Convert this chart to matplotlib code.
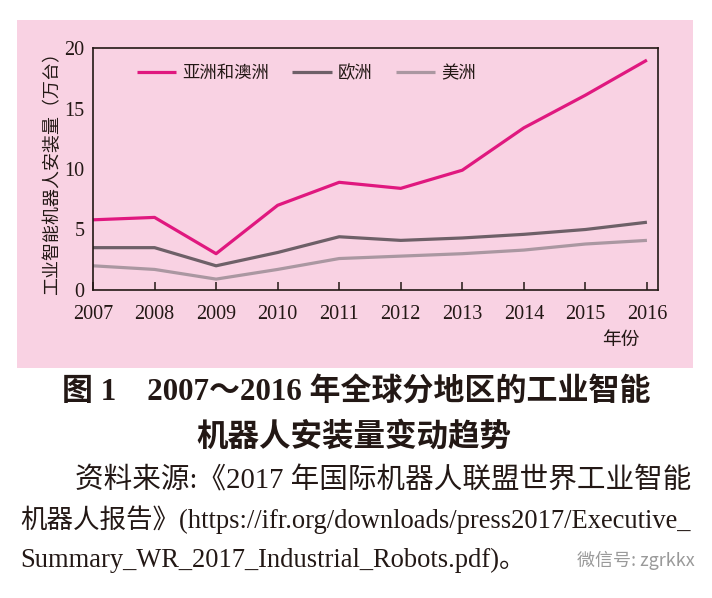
import matplotlib
matplotlib.use("Agg")
import matplotlib.pyplot as plt
from matplotlib.patches import Rectangle

years = [2007, 2008, 2009, 2010, 2011, 2012, 2013, 2014, 2015, 2016]
asia = [5.8, 6.0, 3.0, 7.0, 8.9, 8.4, 9.9, 13.4, 16.1, 19.0]
europe = [3.5, 3.5, 2.0, 3.1, 4.4, 4.1, 4.3, 4.6, 5.0, 5.6]
americas = [2.0, 1.7, 0.9, 1.7, 2.6, 2.8, 3.0, 3.3, 3.8, 4.1]
series_names = ["亚洲和澳洲", "欧洲", "美洲"]
yticks = [0, 5, 10, 15, 20]
ylabel = "工业智能机器人安装量（万台）"
xlabel = "年份"
cap1 = "图 1　2007～2016 年全球分地区的工业智能"
cap2 = "机器人安装量变动趋势"
cap3 = "资料来源:《2017 年国际机器人联盟世界工业智能"
cap4 = "机器人报告》(https://ifr.org/downloads/press2017/Executive_"
cap5 = "Summary_WR_2017_Industrial_Robots.pdf)。"
watermark = "微信号: zgrkkx"

W, H = 712, 598
PINK = "#F9D2E3"
INK = "#231815"
FAM = ["Liberation Serif", "Noto Sans CJK SC", "DejaVu Sans"]
plt.rcParams["font.family"] = FAM

fig = plt.figure(figsize=(W / 100, H / 100), dpi=100)
fig.patch.set_facecolor("white")

def fx(px):
    return px / W

def fy(py):
    return 1 - py / H

fig.add_artist(Rectangle((fx(17), fy(368)), fx(693) - fx(17), fy(20) - fy(368),
                         transform=fig.transFigure, facecolor=PINK, edgecolor="none", zorder=0))

ax = fig.add_axes([fx(93), fy(290), fx(658) - fx(93), fy(48) - fy(290)])
ax.set_facecolor(PINK)
ax.plot(years, asia, color="#E0187F", lw=2.3, label=series_names[0], solid_capstyle="butt")
ax.plot(years, europe, color="#6E6068", lw=2.3, label=series_names[1], solid_capstyle="butt")
ax.plot(years, americas, color="#AA97A1", lw=2.3, label=series_names[2], solid_capstyle="butt")

ax.set_xlim(2007, 2016.18)
ax.set_ylim(0, 20)
ax.set_xticks(years)
ax.set_xticklabels([str(y) for y in years], fontsize=14.5, family=FAM, color=INK)
ax.set_yticks(yticks)
ax.set_yticklabels([str(v) for v in yticks], fontsize=14.5, family=FAM, color=INK)
ax.tick_params(axis="x", direction="in", length=6, width=1.1, color=INK, pad=11)
ax.tick_params(axis="y", length=0, pad=6)
for s in ax.spines.values():
    s.set_color(INK)
    s.set_linewidth(1.2)

leg = ax.legend(loc="center left", bbox_to_anchor=((137 - 93) / 565, 1 - (74 - 48) / 242),
                ncol=3, frameon=False, borderpad=0, borderaxespad=0,
                handlelength=2.25, handletextpad=0.35, columnspacing=1.35,
                prop={"family": FAM, "size": 12.5})
for t in leg.get_texts():
    t.set_color(INK)

yl = fig.text(fx(52), fy(169), ylabel, rotation=90, ha="center", va="center",
              fontsize=15, family=FAM, color=INK)
fig.text(fx(621), fy(340), xlabel, ha="center", va="center", fontsize=13.5, family=FAM, color=INK)

t1 = fig.text(fx(356), fy(393), cap1, ha="center", va="center", fontsize=21,
              family=FAM, weight="bold", color=INK)
t2 = fig.text(fx(354), fy(437), cap2, ha="center", va="center", fontsize=21,
              family=FAM, weight="bold", color=INK)
t3 = fig.text(fx(75), fy(481), cap3, ha="left", va="center", fontsize=20, family=FAM, color=INK)
t4 = fig.text(fx(20), fy(520), cap4, ha="left", va="center", fontsize=20, family=FAM, color=INK)
t5 = fig.text(fx(20), fy(560), cap5, ha="left", va="center", fontsize=20, family=FAM, color=INK)
tw = fig.text(fx(695), fy(560), watermark, ha="right", va="center", fontsize=13,
              family=["Noto Sans CJK SC", "DejaVu Sans"], color="#9A9A9A")

# fit text lengths to the reference extents
fig.canvas.draw()
r = fig.canvas.get_renderer()
targets = [(t1, 588), (t2, 315), (t3, 615), (t4, 670)]
for t, target in targets:
    w = t.get_window_extent(r).width
    t.set_fontsize(t.get_fontsize() * target / w)
t5.set_fontsize(t4.get_fontsize())
hy = yl.get_window_extent(r).height
yl.set_fontsize(yl.get_fontsize() * 252 / hy)

fig.savefig("out.png", dpi=100, facecolor="white")
